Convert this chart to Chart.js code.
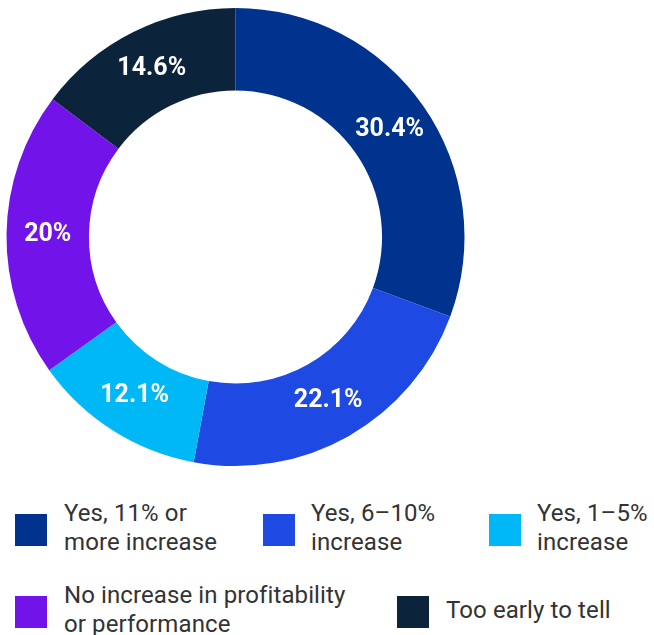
<!DOCTYPE html>
<html>
<head>
<meta charset="utf-8">
<script src="https://cdn.jsdelivr.net/npm/chart.js@4"></script>
<style>
  html, body { margin: 0; padding: 0; background: #fff; }
  #wrap { position: relative; width: 654px; height: 635px; overflow: hidden; font-family: Roboto, "Liberation Sans", sans-serif; }
  #chartBox { position: absolute; left: 0; top: 0; width: 471px; height: 474px; }
  .lg-sq { position: absolute; width: 32px; height: 32px; }
  .lg-tx { position: absolute; font-size: 24px; line-height: 29px; color: #333; white-space: nowrap; letter-spacing: 0.1px; }
</style>
</head>
<body>
<div id="wrap">
  <div id="chartBox"><canvas id="donut"></canvas></div>
  <div id="legend"></div>
</div>
<script>
// categories (legend lines) and values
const categories = [
    ['Yes, 11% or', 'more increase'],
    ['Yes, 6\u201310%', 'increase'],
    ['Yes, 1\u20135%', 'increase'],
    ['No increase in profitability', 'or performance'],
    ['Too early to tell']
];
const shares = [30.4, 22.1, 12.1, 20, 14.6];
const valueLabels = ['30.4%', '22.1%', '12.1%', '20%', '14.6%'];
const colors = ['#00338D', '#1E49E2', '#00B8F5', '#7213EA', '#0C233C'];

// 百分比标签插件
const sliceLabels = {
    id: 'sliceLabels',
    afterDatasetsDraw(chart) {
        const ctx = chart.ctx;
        const meta = chart.getDatasetMeta(0);
        ctx.save();
        ctx.fillStyle = '#fff';
        ctx.font = 'bold 25px Roboto, "Liberation Sans", sans-serif';
        ctx.textAlign = 'center';
        ctx.textBaseline = 'middle';
        meta.data.forEach(function(arc, i) {
            const p = arc.tooltipPosition();
            ctx.fillText(valueLabels[i], p.x, p.y);
        });
        ctx.restore();
    }
};

new Chart(document.getElementById('donut'), {
    type: 'doughnut',
    data: {
        labels: categories,
        datasets: [{
            data: shares,
            backgroundColor: colors,
            borderWidth: 0
        }]
    },
    options: {
        responsive: true,
        maintainAspectRatio: false,
        animation: false,
        cutout: '64%',
        layout: { padding: { top: 8, bottom: 8, left: 6, right: 6 } },
        plugins: {
            legend: { display: false },
            tooltip: { enabled: false }
        }
    },
    plugins: [sliceLabels]
});

// legend below the chart
const legendSpots = [
    { sx: 15, sy: 514, tx: 64, ty: 499 },
    { sx: 263, sy: 514, tx: 311, ty: 499 },
    { sx: 489, sy: 514, tx: 537, ty: 499 },
    { sx: 15, sy: 596, tx: 64, ty: 581 },
    { sx: 397, sy: 596, tx: 446, ty: 596 }
];
const legendEl = document.getElementById('legend');
categories.forEach(function(lines, i) {
    const s = legendSpots[i];
    const sq = document.createElement('div');
    sq.className = 'lg-sq';
    sq.style.left = s.sx + 'px';
    sq.style.top = s.sy + 'px';
    sq.style.background = colors[i];
    legendEl.appendChild(sq);
    const tx = document.createElement('div');
    tx.className = 'lg-tx';
    tx.style.left = s.tx + 'px';
    tx.style.top = s.ty + 'px';
    tx.innerHTML = lines.join('<br>');
    legendEl.appendChild(tx);
});
</script>
</body>
</html>
